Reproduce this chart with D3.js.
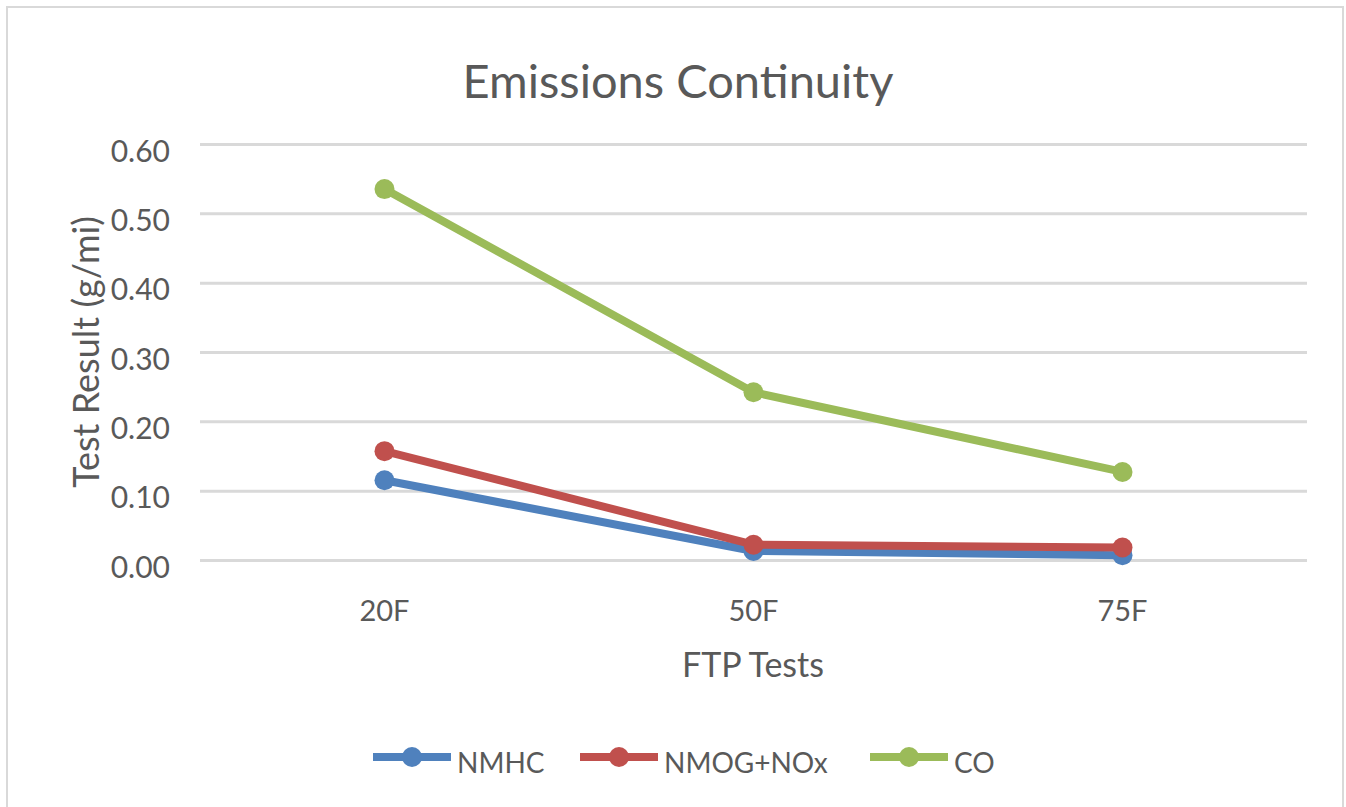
<!DOCTYPE html>
<html>
<head>
<meta charset="utf-8">
<script src="https://cdn.jsdelivr.net/npm/d3@7"></script>
<style>
  body { margin: 0; background: #fff; }
  text { font-family: Lato, "Open Sans", sans-serif; fill: #595959; }
</style>
</head>
<body>
<div id="chart"></div>
<script>
// data
var categories = ["20F", "50F", "75F"];
var seriesNames = ["NMHC", "NMOG+NOx", "CO"];
var nmhc = [0.115, 0.013, 0.007];
var nmogNox = [0.157, 0.022, 0.018];
var co = [0.535, 0.242, 0.127];
var yTicks = [0, 0.1, 0.2, 0.3, 0.4, 0.5, 0.6];
var colors = ["#4F81BD", "#C0504D", "#9BBB59"];

var chart_width = 1346;
var chart_height = 807;
var plot = { left: 200, right: 1307, top: 144, bottom: 560 };

var svg = d3.select("#chart")
    .append("svg")
    .attr("width", chart_width)
    .attr("height", chart_height);

// chart border
svg.append("rect")
    .attr("x", 7).attr("y", 7)
    .attr("width", 1336).attr("height", 810)
    .attr("fill", "#fff")
    .attr("stroke", "#d9d9d9")
    .attr("stroke-width", 2);

var x = d3.scaleBand()
    .domain(categories)
    .range([plot.left, plot.right]);

var y = d3.scaleLinear()
    .domain([0, 0.6])
    .range([plot.bottom, plot.top]);

// gridlines + y labels
var yAxis = d3.axisLeft(y)
    .tickValues(yTicks)
    .tickSize(-(plot.right - plot.left))
    .tickPadding(30)
    .tickFormat(d3.format(".2f"));

var gy = svg.append("g")
    .attr("transform", "translate(" + plot.left + ",0)")
    .call(yAxis);
gy.select(".domain").remove();
gy.selectAll(".tick line").attr("stroke", "#d9d9d9").attr("stroke-width", 3);
gy.selectAll(".tick text")
    .attr("font-size", 30)
    .attr("dy", 17)
    .attr("fill", "#595959")
    .style("font-family", "Lato, sans-serif");

var xAxis = d3.axisBottom(x).tickSize(0);
var gx = svg.append("g")
    .attr("transform", "translate(0," + plot.bottom + ")")
    .call(xAxis);
gx.select(".domain").remove();
gx.selectAll(".tick text")
    .attr("font-size", 29)
    .attr("y", 61)
    .attr("dy", null)
    .attr("fill", "#595959")
    .style("font-family", "Lato, sans-serif");

// titles
svg.append("text")
    .attr("x", 678).attr("y", 98)
    .attr("text-anchor", "middle")
    .attr("font-size", 47)
    .text("Emissions Continuity");

svg.append("text")
    .attr("x", 753).attr("y", 677)
    .attr("text-anchor", "middle")
    .attr("font-size", 34)
    .text("FTP Tests");

svg.append("text")
    .attr("transform", "translate(99,352) rotate(-90)")
    .attr("text-anchor", "middle")
    .attr("font-size", 36)
    .text("Test Result (g/mi)");

// lines
var allSeries = [nmhc, nmogNox, co];
var line = d3.line()
    .x(function(d, i) { return x(categories[i]) + x.bandwidth() / 2; })
    .y(function(d) { return y(d); });

allSeries.forEach(function(values, s) {
    var g = svg.append("g");
    g.append("path")
        .datum(values)
        .attr("d", line)
        .attr("fill", "none")
        .attr("stroke", colors[s])
        .attr("stroke-width", 8)
        .attr("stroke-linejoin", "round");
    g.selectAll("circle")
        .data(values)
        .enter()
        .append("circle")
        .attr("cx", function(d, i) { return x(categories[i]) + x.bandwidth() / 2; })
        .attr("cy", function(d) { return y(d); })
        .attr("r", 10)
        .attr("fill", colors[s]);
});

// legend
var legendX = [373, 580, 870];
var legend = svg.selectAll(".legend")
    .data(seriesNames)
    .enter()
    .append("g")
    .attr("class", "legend")
    .attr("transform", function(d, i) { return "translate(" + legendX[i] + ",757)"; });

legend.append("line")
    .attr("x1", 0).attr("x2", 78)
    .attr("stroke", function(d, i) { return colors[i]; })
    .attr("stroke-width", 8);
legend.append("circle")
    .attr("cx", 39).attr("r", 10)
    .attr("fill", function(d, i) { return colors[i]; });
legend.append("text")
    .attr("x", 84).attr("y", 16)
    .attr("font-size", 28)
    .text(function(d) { return d; });
</script>
</body>
</html>
